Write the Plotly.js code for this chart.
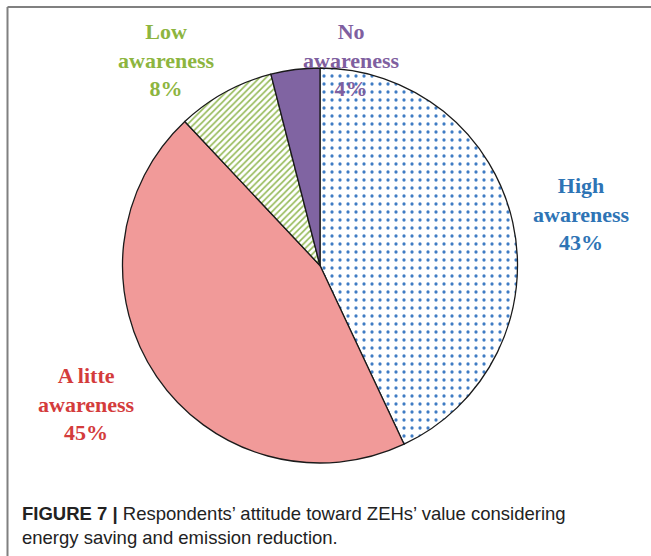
<!DOCTYPE html>
<html>
<head>
<meta charset="utf-8">
<script src="https://cdn.plot.ly/plotly-3.0.1.min.js"></script>
<style>html,body{margin:0;padding:0;background:#fff;}#chart{width:651px;height:556px;}</style>
</head>
<body>
<div id="chart"></div>
<script>
// Data
const categories = ["High awareness", "A litte awareness", "Low awareness", "No awareness"];
const labelLines = [["High", "awareness"], ["A litte", "awareness"], ["Low", "awareness"], ["No", "awareness"]];
const values = [43, 45, 8, 4];
const captionBold = "FIGURE 7 |";
const captionText = "Respondents\u2019 attitude toward ZEHs\u2019 value considering<br>energy saving and emission reduction.";

// Styles
const W = 651, H = 556;
const sliceColors = ["#ffffff", "#f19a99", "#ffffff", "#8064a2"];
const patterns = [
  {shape: ".", fgcolor: "#3f7cc4", bgcolor: "#ffffff", size: 8, solidity: 0.13},
  {shape: ""},
  {shape: "/", fgcolor: "#94b957", bgcolor: "#ffffff", size: 4.5, solidity: 0.35},
  {shape: ""}
];
const textColors = ["#2e74b5", "#d43c3c", "#8db53f", "#7f5fa0"];
const labelPos = [[581, 214], [86, 404], [166, 60], [351, 60]]; // px centres

const cx = 320, cy = 265.5, r = 197.5;

const total = values.reduce((a, b) => a + b, 0);
const annotations = categories.map((c, i) => ({
  xref: "paper", yref: "paper",
  x: labelPos[i][0] / W, y: 1 - labelPos[i][1] / H,
  xanchor: "center", yanchor: "middle",
  showarrow: false,
  align: "center",
  text: "<b>" + labelLines[i].join("<br>") + "<br>" + Math.round(values[i] / total * 100) + "%</b>",
  font: {family: "Liberation Serif, Times New Roman, serif", size: 22, color: textColors[i]}
}));

annotations.push({
  xref: "paper", yref: "paper",
  x: 20 / W, y: 1 - 525 / H,
  xanchor: "left", yanchor: "middle",
  showarrow: false, align: "left",
  text: "<b>" + captionBold + "</b> " + captionText,
  font: {family: "Liberation Sans, Arial, sans-serif", size: 18.5, color: "#222222"}
});

const trace = {
  type: "pie",
  labels: categories,
  values: values,
  sort: false,
  direction: "clockwise",
  rotation: 0,
  textinfo: "none",
  hoverinfo: "label+percent",
  marker: {
    colors: sliceColors,
    pattern: {
      shape: patterns.map(p => p.shape),
      fgcolor: patterns.map(p => p.fgcolor || "#000"),
      bgcolor: patterns.map(p => p.bgcolor || "#fff"),
      size: patterns.map(p => p.size || 8),
      solidity: patterns.map(p => p.solidity || 0.3)
    },
    line: {color: "#1a1a1a", width: 1.3}
  },
  domain: {
    x: [(cx - r) / W, (cx + r) / W],
    y: [1 - (cy + r) / H, 1 - (cy - r) / H]
  },
  showlegend: false
};

const layout = {
  width: W, height: H,
  margin: {l: 0, r: 0, t: 0, b: 0},
  paper_bgcolor: "#ffffff",
  showlegend: false,
  annotations: annotations,
  shapes: [
    {type: "line", xref: "paper", yref: "paper", x0: 7.5 / W, x1: 1, y0: 1 - 7 / H, y1: 1 - 7 / H, line: {color: "#808080", width: 2}},
    {type: "line", xref: "paper", yref: "paper", x0: 7.5 / W, x1: 7.5 / W, y0: 0, y1: 1 - 7 / H, line: {color: "#808080", width: 2}}
  ]
};

Plotly.newPlot("chart", [trace], layout, {staticPlot: true, displayModeBar: false});
</script>
</body>
</html>
